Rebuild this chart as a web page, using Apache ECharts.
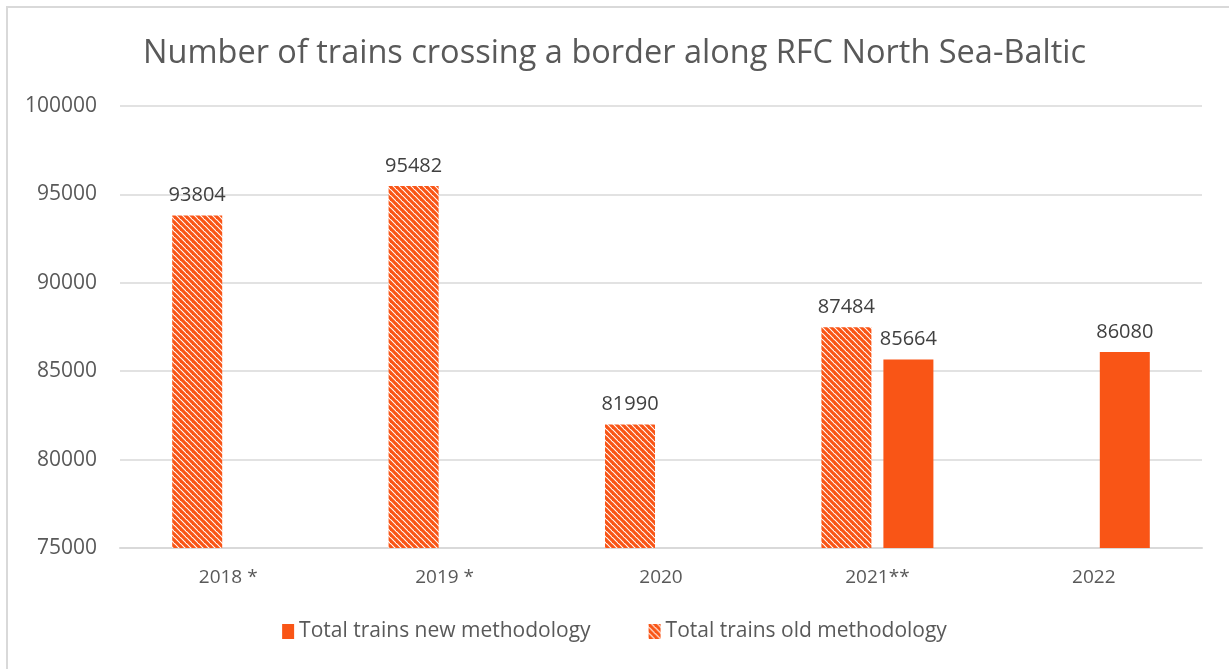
<!DOCTYPE html>
<html style="height: 100%; width:100%">
<head>
    <meta charset="utf-8">
    <script type="text/javascript" src="https://cdn.jsdelivr.net/npm/echarts@6/dist/echarts.min.js"></script>
</head>
<body style="height: 100%; width: 100%; margin: 0; background:#fff;">
<div id="container" style="height: 669px;width:1229px"></div>
<script type="text/javascript">
    var years = ["2018 *", "2019 *", "2020", "2021**", "2022"];
    var oldMethod = [93804, 95482, 81990, 87484, null];
    var newMethod = [null, null, null, 85664, 86080];
    var yTicks = {min: 75000, max: 100000, interval: 5000};

    var orange = "#F95516";
    var grey = "#595959";
    var font = "Open Sans";

    // diagonal stripes like excel's wide downward diagonal
    function stripes() {
        var c = document.createElement("canvas");
        c.width = 6; c.height = 6;
        var ctx = c.getContext("2d");
        ctx.fillStyle = "#fff";
        ctx.fillRect(0, 0, 6, 6);
        ctx.strokeStyle = orange;
        ctx.lineWidth = 3.2;
        for (var k = -6; k <= 6; k += 6) {
            ctx.beginPath();
            ctx.moveTo(k - 1, -1);
            ctx.lineTo(k + 7, 7);
            ctx.stroke();
        }
        return c;
    }
    var hatch = {image: stripes(), repeat: "repeat"};

    var myChart = echarts.init(document.getElementById("container"));
    var labelStyle = {
        show: true, position: "top", distance: 10,
        color: "#404040", fontFamily: font, fontSize: 20
    };
    var option = {
        animation: false,
        textStyle: {fontFamily: font},
        title: {
            text: "Number of trains crossing a border along RFC North Sea-Baltic",
            left: "center", top: 32,
            textStyle: {color: grey, fontSize: 32.5, fontWeight: "normal", fontFamily: font}
        },
        graphic: [{
            type: "rect",
            shape: {x: 7, y: 7, width: 1240, height: 680},
            style: {fill: "none", stroke: "#d9d9d9", lineWidth: 2},
            silent: true
        }],
        legend: {
            bottom: 22,
            left: "center",
            icon: "rect",
            itemWidth: 12,
            itemHeight: 15,
            itemGap: 58,
            data: ["Total trains new methodology", "Total trains old methodology"],
            textStyle: {color: grey, fontSize: 21, fontFamily: font}
        },
        grid: {left: 120, right: 27, top: 106, bottom: 121},
        xAxis: {
            type: "category",
            data: years,
            axisLine: {lineStyle: {color: "#d9d9d9", width: 2}},
            axisTick: {show: false},
            axisLabel: {color: grey, fontSize: 19, margin: 20, fontFamily: font}
        },
        yAxis: {
            type: "value",
            min: yTicks.min, max: yTicks.max, interval: yTicks.interval,
            axisLine: {show: false},
            axisTick: {show: false},
            splitLine: {lineStyle: {color: "#d9d9d9", width: 1.5}},
            axisLabel: {
                color: grey, fontSize: 21, margin: 23, fontFamily: font,
                formatter: function (v) { return String(v); }
            }
        },
        series: [{
            name: "Total trains old methodology",
            type: "bar",
            data: oldMethod,
            barWidth: 50,
            barGap: "24%",
            itemStyle: {color: hatch},
            label: labelStyle
        }, {
            name: "Total trains new methodology",
            type: "bar",
            data: newMethod,
            barWidth: 50,
            barGap: "24%",
            itemStyle: {color: orange},
            label: labelStyle
        }]
    };
    myChart.setOption(option);
</script>
</body>
</html>
